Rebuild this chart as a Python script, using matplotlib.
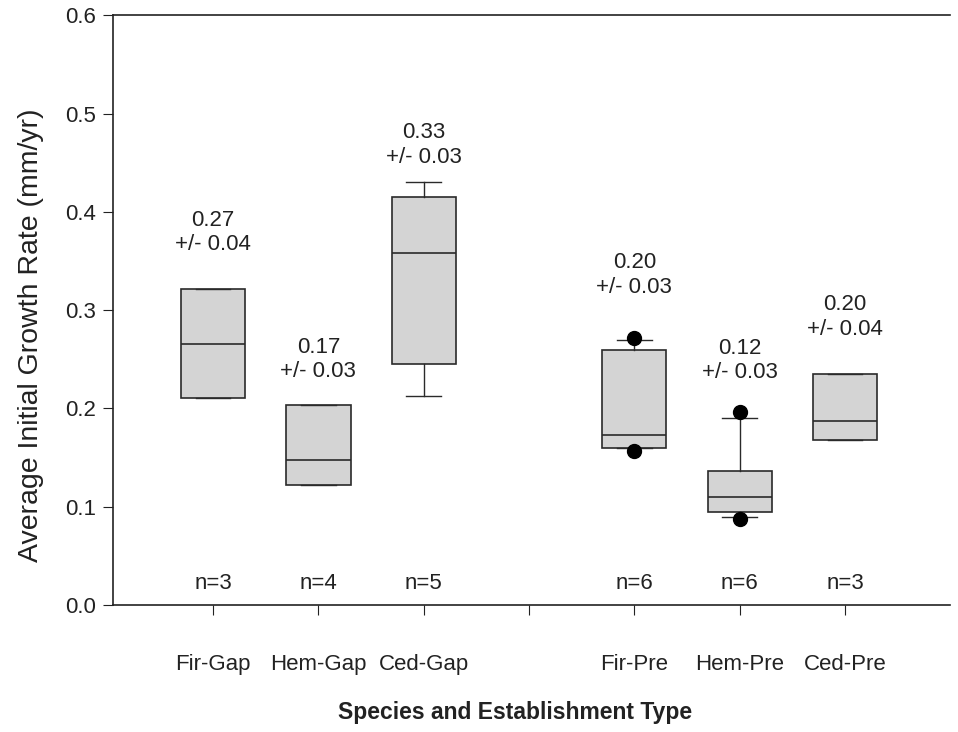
import matplotlib
matplotlib.use("Agg")
import matplotlib.pyplot as plt

plt.rcParams["font.family"] = ["Liberation Sans", "DejaVu Sans"]

# Box statistics per group (mm/yr); position 4 is a spacer between Gap and Pre
categories = ["Fir-Gap", "Hem-Gap", "Ced-Gap", "Fir-Pre", "Hem-Pre", "Ced-Pre"]
positions = [1, 2, 3, 5, 6, 7]
q1 = [0.211, 0.122, 0.245, 0.160, 0.095, 0.168]
med = [0.266, 0.148, 0.358, 0.173, 0.110, 0.187]
q3 = [0.322, 0.204, 0.415, 0.259, 0.136, 0.235]
whislo = [0.211, 0.122, 0.213, 0.160, 0.090, 0.168]
whishi = [0.322, 0.204, 0.430, 0.270, 0.190, 0.235]
outliers = [[], [], [], [0.272, 0.157], [0.196, 0.088], []]

means = [0.27, 0.17, 0.33, 0.20, 0.12, 0.20]
sems = [0.04, 0.03, 0.03, 0.03, 0.03, 0.04]
n_obs = [3, 4, 5, 6, 6, 3]
label_y = [0.379, 0.250, 0.468, 0.336, 0.249, 0.293]

fig = plt.figure(figsize=(9.58, 7.32), dpi=100)
ax = fig.add_axes([0.118, 0.1735, 0.874, 0.8055])

stats = []
for i, name in enumerate(categories):
    stats.append({
        "label": name, "q1": q1[i], "med": med[i], "q3": q3[i],
        "whislo": whislo[i], "whishi": whishi[i], "fliers": outliers[i],
    })

ax.bxp(
    stats, positions=positions, widths=0.61, patch_artist=True,
    capwidths=0.33,
    boxprops=dict(facecolor="#d4d4d4", edgecolor="#2a2a2a", linewidth=1.2),
    medianprops=dict(color="#2a2a2a", linewidth=1.2),
    whiskerprops=dict(color="#2a2a2a", linewidth=1.0),
    capprops=dict(color="#2a2a2a", linewidth=1.0),
    flierprops=dict(marker="o", markerfacecolor="black", markeredgecolor="black",
                    markersize=10),
)

for x, m, se, ly, n in zip(positions, means, sems, label_y, n_obs):
    ax.text(x, ly, f"{m:.2f}\n+/- {se:.2f}", ha="center", va="center",
            fontsize=16, linespacing=1.22, color="#222222")
    ax.text(x, 0.022, f"n={n}", ha="center", va="center", fontsize=16,
            color="#222222")

ax.set_xlim(0.05, 8.0)
ax.set_ylim(0, 0.6)
ax.set_yticks([0.0, 0.1, 0.2, 0.3, 0.4, 0.5, 0.6])
ax.set_yticklabels([f"{v:.1f}" for v in ax.get_yticks()])
ax.set_xticks([1, 2, 3, 4, 5, 6, 7])
ax.set_xticklabels(["Fir-Gap", "Hem-Gap", "Ced-Gap", "", "Fir-Pre", "Hem-Pre", "Ced-Pre"])
ax.tick_params(axis="x", direction="out", length=7, pad=28, labelsize=16,
               colors="#222222")
ax.tick_params(axis="y", direction="out", length=7, pad=5, labelsize=16,
               colors="#222222")

ax.spines["right"].set_visible(False)
for side in ("left", "top", "bottom"):
    ax.spines[side].set_color("#222222")
    ax.spines[side].set_linewidth(1.2)

ax.set_ylabel("Average Initial Growth Rate (mm/yr)", fontsize=20.5, color="#222222")
ax.yaxis.set_label_coords(-0.082, 0.458)
ax.set_xlabel("Species and Establishment Type", fontsize=16.5, fontweight="bold",
              color="#222222")
ax.xaxis.set_label_coords(0.48, -0.162)

fig.savefig("out.png", dpi=100)
